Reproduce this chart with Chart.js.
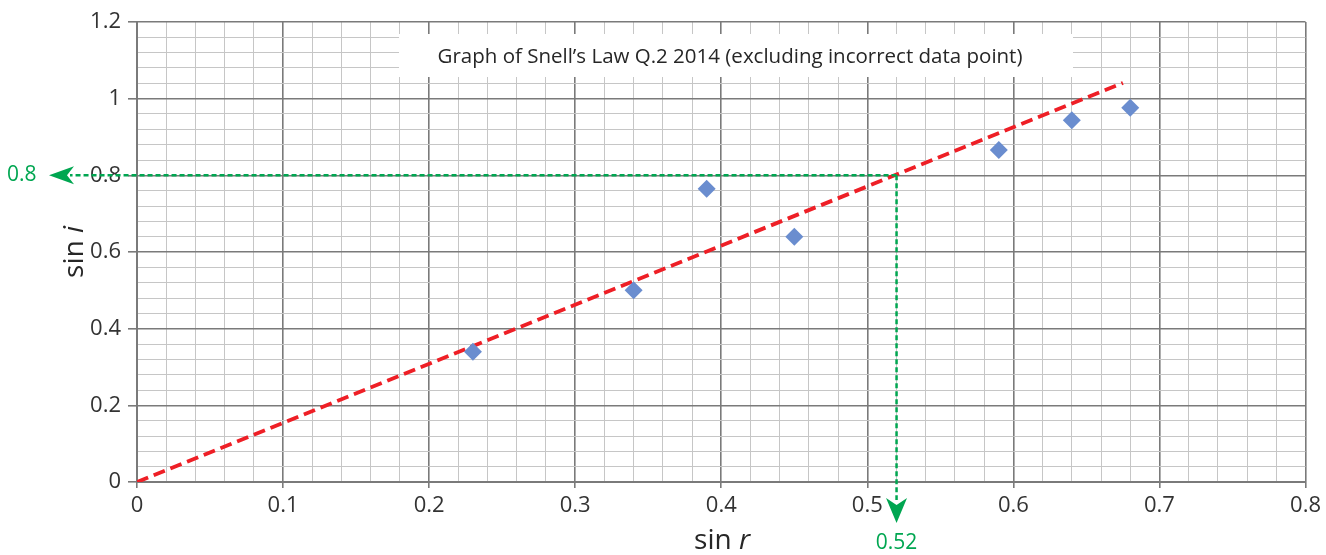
<!DOCTYPE html>
<html>
<head>
<meta charset="utf-8">
<script src="https://cdn.jsdelivr.net/npm/chart.js@4/dist/chart.umd.min.js"></script>
<style>
  html, body { margin: 0; padding: 0; background: #ffffff; }
  #wrap { width: 1326px; height: 555px; position: relative; }
</style>
</head>
<body>
<div id="wrap"><canvas id="c" width="1326" height="555"></canvas></div>
<script>
// Measured values: sin r (angle of refraction) against sin i (angle of incidence)
const sinR = [0.23, 0.34, 0.39, 0.45, 0.59, 0.64, 0.68];
const sinI = [0.34, 0.50, 0.765, 0.64, 0.866, 0.944, 0.976];

// Line of best fit through the origin
const fitR = [0, 0.675];
const fitI = [0, 1.041];

// Reading taken from the fitted line
const readSinI = 0.8;
const readSinR = 0.52;

// Axis ranges and grid spacing
const xMin = 0, xMax = 0.8, xMinorStep = 0.02, xMajorStep = 0.1;
const yMin = 0, yMax = 1.2, yMinorStep = 0.04, yMajorStep = 0.2;

const chartTitle = 'Graph of Snell\u2019s Law Q.2 2014 (excluding incorrect data point)';
const FONT = '"Open Sans", "Noto Sans", sans-serif';
const GREEN = '#00a651';

function isMajor(v, step) {
  const q = v / step;
  return Math.abs(q - Math.round(q)) < 1e-6;
}
function majorLabel(v, step) {
  return isMajor(v, step) ? String(Math.round(v * 10) / 10) : '';
}

// White title box sitting on top of the grid
const titlePlugin = {
  id: 'titleBox',
  beforeDatasetsDraw(chart) {
    const ctx = chart.ctx;
    ctx.save();
    ctx.fillStyle = '#ffffff';
    ctx.fillRect(399, 34, 674, 43);
    ctx.fillStyle = '#262626';
    ctx.font = '20.5px ' + FONT;
    ctx.textAlign = 'center';
    ctx.textBaseline = 'middle';
    ctx.fillText(chartTitle, 730, 57);
    ctx.restore();
  }
};

// Axis titles with italic variable names, and the green read-off guides
const overlayPlugin = {
  id: 'overlay',
  afterDraw(chart) {
    const ctx = chart.ctx;
    const xs = chart.scales.x, ys = chart.scales.y;
    ctx.save();

    // axis titles
    ctx.fillStyle = '#262626';
    const upright = '28px ' + FONT;
    const italic = 'italic 28px ' + FONT;
    ctx.font = upright;
    const w1 = ctx.measureText('sin ').width;
    ctx.font = italic;
    const w2 = ctx.measureText('r').width;
    let x0 = 722 - (w1 + w2) / 2;
    ctx.textBaseline = 'alphabetic';
    ctx.textAlign = 'left';
    ctx.font = upright; ctx.fillText('sin ', x0, 549);
    ctx.font = italic; ctx.fillText('r', x0 + w1, 549);

    ctx.save();
    ctx.translate(83, 252);
    ctx.rotate(-Math.PI / 2);
    ctx.font = upright;
    const v1 = ctx.measureText('sin ').width;
    ctx.font = italic;
    const v2 = ctx.measureText('i').width;
    const y0 = -(v1 + v2) / 2;
    ctx.font = upright; ctx.fillText('sin ', y0, 0);
    ctx.font = italic; ctx.fillText('i', y0 + v1, 0);
    ctx.restore();

    // green guides
    const px = xs.getPixelForValue(readSinR);
    const py = ys.getPixelForValue(readSinI);
    ctx.strokeStyle = GREEN;
    ctx.fillStyle = GREEN;
    ctx.lineWidth = 2.5;
    ctx.setLineDash([5, 3]);
    ctx.beginPath();
    ctx.moveTo(px, py);
    ctx.lineTo(70, py);
    ctx.moveTo(px, py);
    ctx.lineTo(px, 500);
    ctx.stroke();
    ctx.setLineDash([]);

    // left arrow head
    ctx.beginPath();
    ctx.moveTo(49, py);
    ctx.lineTo(74, py - 9);
    ctx.lineTo(67, py);
    ctx.lineTo(74, py + 9);
    ctx.closePath();
    ctx.fill();

    // down arrow head
    ctx.beginPath();
    ctx.moveTo(px, 523);
    ctx.lineTo(px - 10.5, 498);
    ctx.lineTo(px, 505);
    ctx.lineTo(px + 10.5, 498);
    ctx.closePath();
    ctx.fill();

    ctx.font = '21px ' + FONT;
    ctx.textBaseline = 'middle';
    ctx.textAlign = 'left';
    ctx.fillText(String(readSinI), 7, py);
    ctx.textAlign = 'center';
    ctx.fillText(String(readSinR), px, 543);
    ctx.restore();
  }
};

new Chart(document.getElementById('c'), {
  type: 'scatter',
  data: {
    datasets: [
      {
        label: 'sin i',
        data: sinR.map((r, k) => ({ x: r, y: sinI[k] })),
        pointStyle: 'rectRot',
        pointRadius: 9,
        pointHoverRadius: 9,
        backgroundColor: '#6a8dcf',
        borderColor: '#6a8dcf',
        borderWidth: 0,
        order: 1
      },
      {
        label: 'best fit',
        type: 'line',
        data: fitR.map((r, k) => ({ x: r, y: fitI[k] })),
        borderColor: '#ee1f26',
        borderWidth: 3.8,
        borderDash: [12, 6],
        pointRadius: 0,
        fill: false,
        order: 2
      }
    ]
  },
  options: {
    responsive: false,
    animation: false,
    events: [],
    layout: { padding: { top: 22, right: 18, left: 0, bottom: 0 } },
    plugins: {
      legend: { display: false },
      title: { display: false },
      tooltip: { enabled: false }
    },
    scales: {
      x: {
        type: 'linear',
        min: xMin, max: xMax,
        afterFit(scale) { scale.height = 73; },
        border: { color: '#7a7a7a', width: 2 },
        grid: {
          color: c => isMajor(c.tick.value, xMajorStep) ? '#7a7a7a' : '#c6c6c6',
          lineWidth: c => isMajor(c.tick.value, xMajorStep) ? 1.6 : 1,
          tickColor: c => isMajor(c.tick.value, xMajorStep) ? '#7a7a7a' : 'rgba(0,0,0,0)',
          tickLength: 6,
          drawTicks: true
        },
        ticks: {
          stepSize: xMinorStep,
          autoSkip: false,
          maxRotation: 0,
          padding: 5,
          color: '#333333',
          font: { family: FONT, size: 22 },
          callback: v => majorLabel(v, xMajorStep)
        }
      },
      y: {
        type: 'linear',
        min: yMin, max: yMax,
        afterFit(scale) { scale.width = 137; },
        border: { color: '#7a7a7a', width: 2 },
        grid: {
          color: c => isMajor(c.tick.value, yMajorStep) ? '#7a7a7a' : '#c6c6c6',
          lineWidth: c => isMajor(c.tick.value, yMajorStep) ? 1.6 : 1,
          tickColor: c => isMajor(c.tick.value, yMajorStep) ? '#7a7a7a' : 'rgba(0,0,0,0)',
          tickLength: 9,
          drawTicks: true
        },
        ticks: {
          stepSize: yMinorStep,
          autoSkip: false,
          padding: 7,
          color: '#333333',
          font: { family: FONT, size: 22 },
          callback: v => majorLabel(v, yMajorStep)
        }
      }
    }
  },
  plugins: [titlePlugin, overlayPlugin]
});
</script>
</body>
</html>
